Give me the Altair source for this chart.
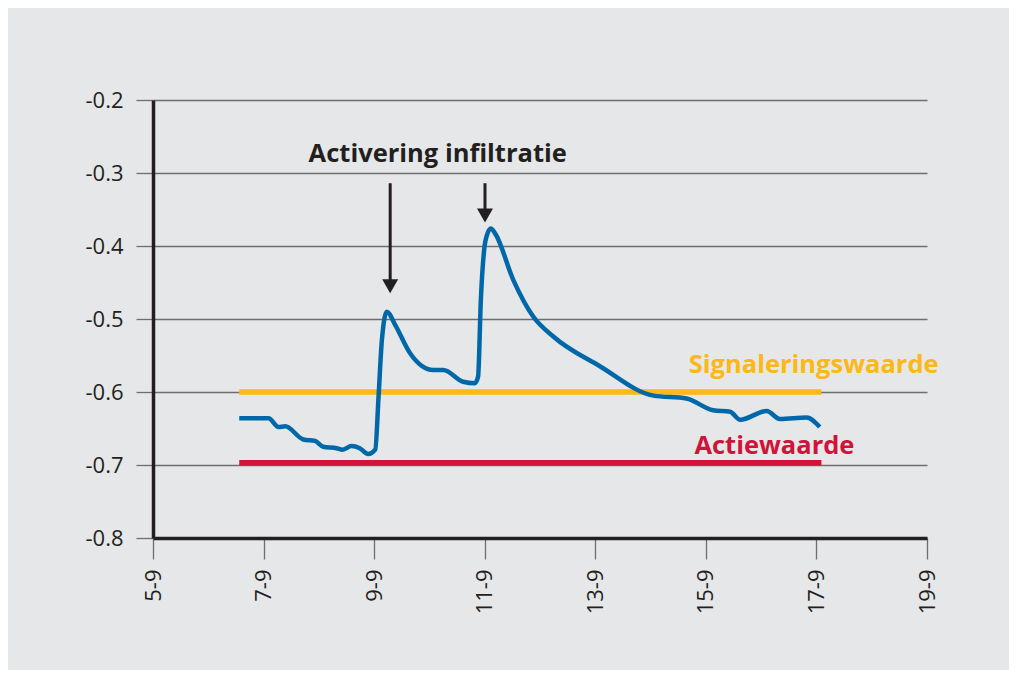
import altair as alt
import pandas as pd

# --- data ---
days = [6.56, 7.09, 7.27, 7.39, 7.72, 7.93, 8.08, 8.32, 8.43, 8.59, 8.74, 8.89, 9.02,
        9.08, 9.14, 9.23, 9.38, 9.65, 10.07, 10.25, 10.61, 10.82, 10.88, 10.93, 10.99,
        11.05, 11.11, 11.19, 11.52, 11.88, 12.24, 13.09, 14.05, 14.65, 15.13, 15.44,
        15.62, 16.10, 16.34, 16.82, 17.06]
values = [-0.636, -0.636, -0.648, -0.647, -0.665, -0.667, -0.675, -0.677, -0.679, -0.674,
          -0.677, -0.685, -0.679, -0.606, -0.529, -0.490, -0.508, -0.547, -0.570, -0.570,
          -0.586, -0.588, -0.579, -0.474, -0.405, -0.383, -0.376, -0.383, -0.447, -0.497,
          -0.524, -0.565, -0.605, -0.609, -0.625, -0.627, -0.638, -0.626, -0.637, -0.635,
          -0.648]

threshold_names = ["Signaleringswaarde", "Actiewaarde"]
threshold_values = [-0.6, -0.697]
threshold_start = [6.56, 6.56]
threshold_end = [17.09, 17.09]
threshold_colors = ["#fbb817", "#cf1339"]

label_texts = ["Activering infiltratie", "Signaleringswaarde", "Actiewaarde"]
label_x = [10.15, 16.95, 16.24]
label_y = [-0.2845, -0.5736, -0.685]
label_colors = ["#231f20", "#fbb817", "#cf1339"]

arrow_x = [9.29, 11.005]
arrow_top = [-0.314, -0.314]
arrow_head = [-0.4552, -0.3582]

x_ticks = [5, 7, 9, 11, 13, 15, 17, 19]
y_ticks = [-0.8, -0.7, -0.6, -0.5, -0.4, -0.3, -0.2]

DARK = "#231f20"
GRID = "#6d6e71"
FONT = "Open Sans"

series = pd.DataFrame({"day": days, "value": values})
thr = pd.DataFrame({"name": threshold_names, "value": threshold_values,
                    "start": threshold_start, "end": threshold_end, "color": threshold_colors})
labels = pd.DataFrame({"text": label_texts, "x": label_x, "y": label_y, "color": label_colors})
arrows = pd.DataFrame({"x": arrow_x, "top": arrow_top, "head": arrow_head})

xscale = alt.Scale(domain=[5, 19], nice=False, zero=False)
yscale = alt.Scale(domain=[-0.8, -0.2], nice=False, zero=False)

xaxis = alt.Axis(values=x_ticks, labelExpr="datum.value + '-9'", labelAngle=270,
                 title=None, grid=False, domainColor=DARK, domainWidth=3.5,
                 tickColor=GRID, tickWidth=1.3, tickSize=21, labelPadding=10,
                 labelFontSize=22, labelColor=DARK, labelFont=FONT)
yaxis = alt.Axis(values=y_ticks, labelExpr="'-' + format(abs(datum.value), '.1f')",
                 title=None, grid=True, gridColor=GRID, gridWidth=1.3,
                 domainColor=DARK, domainWidth=3.5, tickColor=GRID, tickWidth=1.3,
                 tickSize=17, labelPadding=13, labelFontSize=22, labelColor=DARK,
                 labelFont=FONT)

line = alt.Chart(series).mark_line(color="#0068a9", strokeWidth=4.5,
                                   interpolate="monotone").encode(
    x=alt.X("day:Q", scale=xscale, axis=xaxis),
    y=alt.Y("value:Q", scale=yscale, axis=yaxis),
)

thr_rules = alt.Chart(thr).mark_rule(strokeWidth=5.5).encode(
    x=alt.X("start:Q", scale=xscale),
    x2="end:Q",
    y=alt.Y("value:Q", scale=yscale),
    color=alt.Color("color:N", scale=None),
)

shafts = alt.Chart(arrows).mark_rule(color=DARK, strokeWidth=3).encode(
    x=alt.X("x:Q", scale=xscale),
    y=alt.Y("top:Q", scale=yscale),
    y2="head:Q",
)
heads = alt.Chart(arrows).mark_point(
    shape="M-1,-0.875L1,-0.875L0,0.875Z", filled=True, color=DARK, opacity=1,
    size=256, strokeWidth=0).encode(
    x=alt.X("x:Q", scale=xscale),
    y=alt.Y("head:Q", scale=yscale),
)

texts = alt.Chart(labels).mark_text(font=FONT, fontWeight="bold", fontSize=25.5,
                                    align="center", baseline="alphabetic").encode(
    x=alt.X("x:Q", scale=xscale),
    y=alt.Y("y:Q", scale=yscale),
    text="text:N",
    color=alt.Color("color:N", scale=None),
)

chart = alt.layer(thr_rules, line, shafts, heads, texts).properties(
    width=774, height=438,
    background="#e6e7e8",
    autosize=alt.AutoSizeParams(type="none"),
    padding={"left": 145, "top": 92, "right": 82, "bottom": 132},
).configure_view(stroke=None)

chart.save("out.html", embed_options={"renderer": "svg", "actions": False})
